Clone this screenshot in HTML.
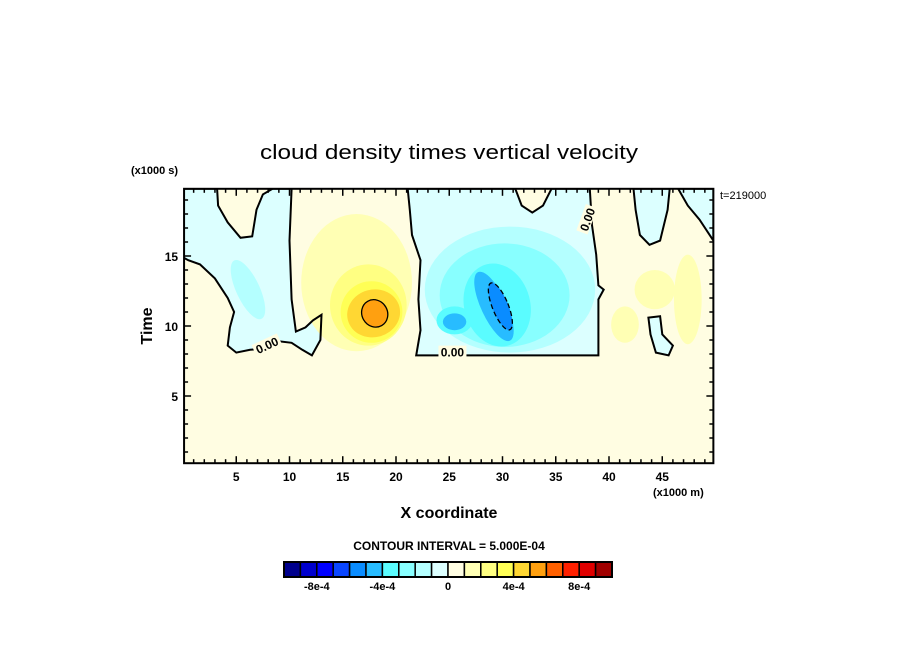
<!DOCTYPE html>
<html><head><meta charset="utf-8"><style>
html,body{margin:0;padding:0;background:#fff;}
svg{display:block;font-family:"Liberation Sans","DejaVu Sans",sans-serif;}
</style></head><body>
<svg id="chart" width="904" height="654" viewBox="0 0 904 654" xmlns="http://www.w3.org/2000/svg">
<text x="449" y="159" font-size="20" text-anchor="middle" textLength="378" lengthAdjust="spacingAndGlyphs">cloud density times vertical velocity</text>
<text x="131" y="174" font-size="11" font-weight="bold">(x1000 s)</text>
<text x="720" y="199" font-size="11">t=219000</text>
<text x="152" y="326" font-size="16" font-weight="bold" text-anchor="middle" transform="rotate(-90 152 326)">Time</text>
<text x="449" y="518" font-size="16" font-weight="bold" text-anchor="middle">X coordinate</text>
<text x="653" y="496" font-size="11" font-weight="bold">(x1000 m)</text>
<text x="449" y="550" font-size="12" font-weight="bold" text-anchor="middle">CONTOUR INTERVAL = 5.000E-04</text>
<g id="plot"></g>
<g id="cbar"></g>
</svg>
<script>
const levelColors = ["#00008c","#0000cd","#0000ff","#0a46ff","#0a8cff","#28bcff","#5afcff","#88ffff","#b4ffff","#dcffff","#fffde2","#ffffb4","#ffff82","#ffff55","#ffd733","#ffa010","#ff6000","#ff2000","#e00000","#a00000"];
const cbarLabels = ["-8e-4","-4e-4","0","4e-4","8e-4"];
const cbarLabelIdx = [2,6,10,14,18];
const xTicks = [5,10,15,20,25,30,35,40,45];
const yTicks = [5,10,15];
// zero-contour cyan regions (data coords: x in 1000 m, y in 1000 s)
const cyanLeft = [[0,19.8],[3.2,19.8],[3.3,18.6],[4.2,17.4],[5.4,16.3],[6.5,16.4],[6.9,18.3],[7.5,19.4],[8.4,19.8],[10.2,19.8],[10.0,16.1],[10.2,11.9],[10.6,9.6],[11.5,9.9],[12.2,10.4],[13.0,10.8],[12.9,9.0],[12.1,7.9],[11.2,8.3],[10.2,8.8],[9.1,8.9],[8.0,8.4],[6.3,8.3],[5.0,8.1],[4.2,8.6],[4.4,9.9],[4.8,11.0],[4.2,12.0],[3.0,13.4],[1.6,14.4],[0.5,14.7],[0,14.9]];
const cyanMid = [[21.1,19.8],[31.2,19.8],[31.8,18.6],[32.8,18.1],[33.8,18.6],[34.6,19.8],[38.2,19.8],[38.4,17.2],[38.8,15.1],[39.0,12.9],[39.5,12.6],[39.0,11.9],[39.0,7.9],[21.9,7.9],[22.3,9.7],[22.1,11.9],[22.3,14.7],[21.5,16.5],[21.3,18.3]];
const cyanRight1 = [[42.3,19.8],[45.7,19.8],[45.5,18.3],[44.8,16.1],[43.8,15.8],[42.9,16.5],[42.5,18.3]];
const cyanRight2 = [[46.5,19.8],[49.8,19.8],[49.8,16.1],[48.5,17.6],[47.4,18.6]];
const cyanIsland = [[43.7,10.6],[44.8,10.7],[45.0,9.4],[46.0,8.6],[45.6,7.9],[44.4,8.1],[43.9,9.4]];
// blobs: [cx, cy, rx, ry, rotation deg, level index]
const blobs = [
 [6.1,12.6,1.1,2.3,-25,8],
 [16.3,13.1,5.2,4.9,0,11],
 [17.4,11.5,3.6,2.9,0,12],
 [17.7,11.0,2.9,2.2,-10,13],
 [17.9,10.9,2.5,1.7,-15,14],
 [18.0,10.9,1.2,1.0,-30,15],
 [30.7,12.6,8.0,4.5,0,8],
 [30.2,12.2,6.1,3.7,0,7],
 [29.5,11.5,3.1,3.0,-15,6],
 [25.5,10.4,1.7,1.0,0,6],
 [29.2,11.4,1.2,2.7,-25,5],
 [25.5,10.3,1.1,0.6,0,5],
 [29.8,11.4,0.75,1.8,-22,4],
 [41.5,10.1,1.3,1.3,0,11],
 [44.3,12.6,1.9,1.4,0,11],
 [47.4,11.9,1.3,3.2,0,11]
];
const contourBlobs = [[18.0,10.9,1.2,1.0,-30,"solid"],[29.8,11.4,0.75,1.8,-22,"dashed"]];

const X0=183, XS=10.65, Y0=466, YS=14;
const xMin=0.1, xMax=49.8, yMin=0.2, yMax=19.8;
const sx = v => X0 + v*XS;
const sy = v => Y0 - v*YS;
const NS="http://www.w3.org/2000/svg";
function mk(tag, attrs, parent){const e=document.createElementNS(NS,tag);for(const k in attrs)e.setAttribute(k,attrs[k]);parent.appendChild(e);return e;}
const plot=document.getElementById('plot');
const L=sx(xMin),R=sx(xMax),T=sy(yMax),B=sy(yMin);
const defs=mk('defs',{},plot);
const cp=mk('clipPath',{id:'clip'},defs);
mk('rect',{x:L,y:T,width:R-L,height:B-T},cp);
const g=mk('g',{'clip-path':'url(#clip)'},plot);
const bg=mk('rect',{x:L,y:T,width:R-L,height:B-T,fill:levelColors[10]},g);


const pts=a=>a.map(p=>sx(p[0]).toFixed(1)+','+sy(p[1]).toFixed(1)).join(' ');
[[cyanLeft,'cyan-region-left'],[cyanMid,'cyan-region-middle'],[cyanRight1,'cyan-region-right-1'],[cyanRight2,'cyan-region-right-2'],[cyanIsland,'cyan-island']].forEach(([a,n])=>{
 const p=mk('polygon',{points:pts(a),fill:levelColors[9]},g);
 
 
});
blobs.forEach((b,i)=>{
 const cx=sx(b[0]),cy=sy(b[1]);
 const e=mk('ellipse',{cx:cx,cy:cy,rx:b[2]*XS,ry:b[3]*YS,transform:`rotate(${b[4]} ${cx} ${cy})`,fill:levelColors[b[5]]},g);
 
 
});
[cyanLeft,cyanMid,cyanRight1,cyanRight2,cyanIsland].forEach(a=>{
 const p=mk('polygon',{points:pts(a),fill:'none',stroke:'#000','stroke-width':2},g);
 
 
});
contourBlobs.forEach(b=>{
 const cx=sx(b[0]),cy=sy(b[1]);
 const e=mk('ellipse',{cx:cx,cy:cy,rx:b[2]*XS,ry:b[3]*YS,transform:`rotate(${b[4]} ${cx} ${cy})`,fill:'none',stroke:'#000','stroke-width':1.3},g);
 if(b[5]==='dashed')e.setAttribute('stroke-dasharray','5 3');
 
 
});
// contour labels
[[25.3,8.1,0,'0.00'],[7.9,8.6,-25,'0.00'],[38.0,17.6,-70,'0.00']].forEach(l=>{
 const x=sx(l[0]),y=sy(l[1]);
 const r=mk('rect',{x:x-14,y:y-7,width:28,height:12,fill:levelColors[l===null?0:10],transform:`rotate(${l[2]} ${x} ${y})`},g);
 
 
 const t=mk('text',{x:x,y:y+4,'font-size':12,'font-weight':'bold','text-anchor':'middle',transform:`rotate(${l[2]} ${x} ${y})`},g);
 t.textContent=l[3];
 
 
});
// frame
const fr=mk('rect',{x:L,y:T,width:R-L,height:B-T,fill:'none',stroke:'#000','stroke-width':2},plot);


// ticks
const tg=mk('g',{stroke:'#000','stroke-width':1.5},plot);


for(let v=1;v<50;v++){const x=sx(v),len=(v%5===0)?7:4;
 mk('line',{x1:x,y1:B,x2:x,y2:B-len},tg);mk('line',{x1:x,y1:T,x2:x,y2:T+len},tg);}
for(let v=1;v<20;v++){const y=sy(v),len=(v%5===0)?7:4;
 mk('line',{x1:L,y1:y,x2:L+len,y2:y},tg);mk('line',{x1:R,y1:y,x2:R-len,y2:y},tg);}
xTicks.forEach(v=>{const t=mk('text',{x:sx(v),y:B+18,'font-size':12,'font-weight':'bold','text-anchor':'middle'},plot);t.textContent=v;
 
 });
yTicks.forEach(v=>{const t=mk('text',{x:L-6,y:sy(v)+5,'font-size':12,'font-weight':'bold','text-anchor':'end'},plot);t.textContent=v;
 
 });
// colorbar
const cb=document.getElementById('cbar');
const cbL=284,cbR=612,cbT=562,cbH=15,cw=(cbR-cbL)/levelColors.length;
levelColors.forEach((c,i)=>{const r=mk('rect',{x:cbL+i*cw,y:cbT,width:cw,height:cbH,fill:c,stroke:'#000','stroke-width':1.5},cb);
 
 });
const cbf=mk('rect',{x:cbL,y:cbT,width:cbR-cbL,height:cbH,fill:'none',stroke:'#000','stroke-width':2},cb);


cbarLabels.forEach((s,k)=>{const t=mk('text',{x:cbL+cbarLabelIdx[k]*cw,y:cbT+cbH+13,'font-size':11,'font-weight':'bold','text-anchor':'middle'},cb);t.textContent=s;
 
 });
</script>
</body></html>
